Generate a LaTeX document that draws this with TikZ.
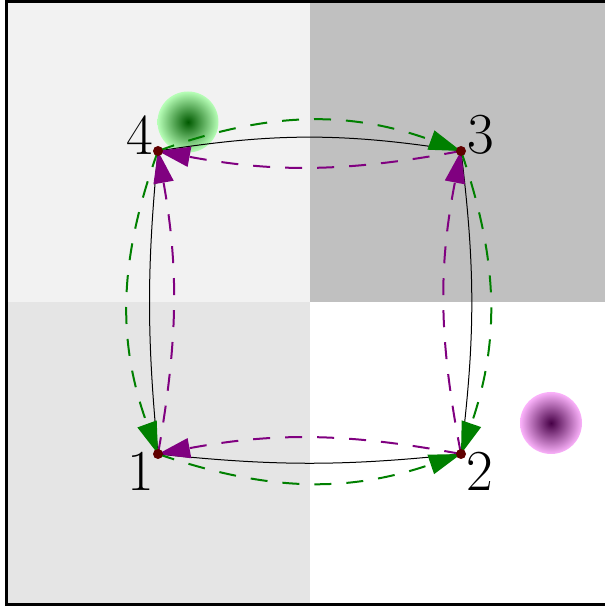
\documentclass[tikz,border=0pt]{standalone}
\usetikzlibrary{arrows.meta}
\definecolor{qTL}{gray}{0.95}
\definecolor{qTR}{gray}{0.753}
\definecolor{qBL}{gray}{0.9}
\definecolor{grn}{RGB}{0,128,0}
\definecolor{prp}{RGB}{128,0,128}
\definecolor{dotc}{RGB}{96,0,0}
\tikzset{
  greenarc/.style={draw=grn, line width=2pt, dash pattern=on 17pt off 15pt, -{Triangle[length=32pt,width=20pt]}, fill=none},
  purplearc/.style={draw=prp, line width=2pt, dash pattern=on 17pt off 15pt, -{Triangle[length=32pt,width=20pt]}, fill=none},
  blackarc/.style={draw=black, line width=1pt},
  vdot/.style={circle, fill=dotc, inner sep=0pt, minimum size=10pt},
  lbl/.style={inner sep=0pt, font=\fontsize{58}{62}\selectfont}
}
\begin{document}
\begin{tikzpicture}[x=1pt,y=1pt]
\useasboundingbox (0,0) rectangle (605,608);
\clip (0,0) rectangle (605,608);
% quadrants
\fill[qTL] (6.5,306) rectangle (310,607);
\fill[qTR] (310,306) rectangle (612,607);
\fill[qBL] (6.5,3.5) rectangle (310,306);
\fill[white] (310,3.5) rectangle (612,306);
\draw[line width=3.5pt] (6.5,3.5) rectangle (612,607);
% balls
\shade[inner color=green!35!black, outer color=green!28] (188,486) circle (30.5);
\shade[inner color=prp!55!black, outer color=violet!10!magenta!30] (551,185) circle (31);
% points
\coordinate (n4) at (158,457);
\coordinate (n3) at (461,457);
\coordinate (n1) at (158,154);
\coordinate (n2) at (461,154);
% black arcs
\draw[blackarc] (n4) to[bend left=9] (n3);
\draw[blackarc] (n3) to[bend left=7] (n2);
\draw[blackarc] (n1) to[bend right=6] (n2);
\draw[blackarc] (n4) to[bend right=5.5] (n1);
% green arcs
\draw[greenarc] (n4) to[bend left=20] (n3);
\draw[greenarc] (n3) to[bend left=19] (n2);
\draw[greenarc] (n4) to[bend right=20] (n1);
\draw[greenarc] (n1) to[bend right=19] (n2);
% purple arcs
\draw[purplearc] (n3) to[bend left=10.5] (n4);
\draw[purplearc] (n1) to[bend right=10] (n4);
\draw[purplearc] (n2) to[bend right=10.5] (n1);
\draw[purplearc] (n2) to[bend left=11] (n3);
% dots
\node[vdot] (d1) at (n1) {};
\node[vdot] (d2) at (n2) {};
\node[vdot] (d3) at (n3) {};
\node[vdot] (d4) at (n4) {};
% labels
\node[lbl] (l4) at (140,473) {4};
\node[lbl] (l3) at (481,473) {3};
\node[lbl] (l1) at (141,137) {1};
\node[lbl] (l2) at (480,137) {2};
\end{tikzpicture}
\end{document}
